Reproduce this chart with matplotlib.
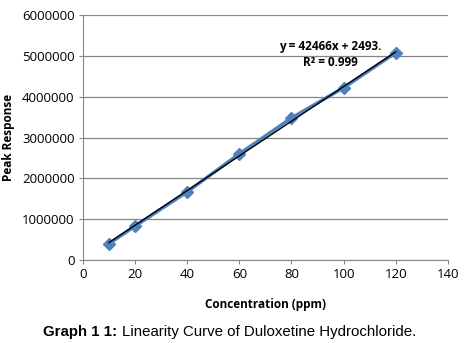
import numpy as np
import matplotlib
matplotlib.use("Agg")
import matplotlib.pyplot as plt

conc = [10, 20, 40, 60, 80, 100, 120]
response = [400000, 830000, 1670000, 2600000, 3480000, 4220000, 5080000]
slope = 42466
intercept = 2493
y_ticks = [0, 1000000, 2000000, 3000000, 4000000, 5000000, 6000000]
x_ticks = [0, 20, 40, 60, 80, 100, 120, 140]

plt.rcParams["font.family"] = ["Open Sans", "DejaVu Sans"]

fig = plt.figure(figsize=(4.71, 3.43), dpi=100)
ax = fig.add_axes([0.176, 0.242, 0.775, 0.714])

# 데이터 시리즈
ax.plot(conc, response, color="#4F81BD", lw=2.5, marker="D", ms=6, zorder=3)

# 추세선
fit_x = np.array([conc[0], conc[-1]])
ax.plot(fit_x, slope * fit_x + intercept, color="black", lw=1, zorder=4)

ax.set_xlim(0, 140)
ax.set_ylim(0, 6000000)
ax.set_xticks(x_ticks)
ax.set_yticks(y_ticks)
ax.set_yticklabels([str(v) for v in y_ticks])
ax.tick_params(labelsize=9.5, length=3, color="#868686", pad=3)
ax.yaxis.grid(True, color="#868686", lw=0.9)
ax.set_axisbelow(True)
for s in ["top", "right"]:
    ax.spines[s].set_visible(False)
for s in ["left", "bottom"]:
    ax.spines[s].set_color("#868686")

ax.set_xlabel("Concentration (ppm)", fontsize=8.5, fontweight="bold", labelpad=12)
ax.set_ylabel("Peak Response", fontsize=8.5, fontweight="bold", labelpad=5)

ax.text(95, 5150000, "y = 42466x + 2493.", fontsize=8.5, fontweight="bold", ha="center")
ax.text(95, 4750000, "R² = 0.999", fontsize=8.5, fontweight="bold", ha="center")

fig.text(0.092, 0.02, "Graph 1 1:", fontsize=10.8, fontweight="bold",
         family="Liberation Sans", ha="left")
fig.text(0.26, 0.02, "Linearity Curve of Duloxetine Hydrochloride.", fontsize=10.8,
         family="Liberation Sans", ha="left")

fig.savefig("out.png", dpi=100)
